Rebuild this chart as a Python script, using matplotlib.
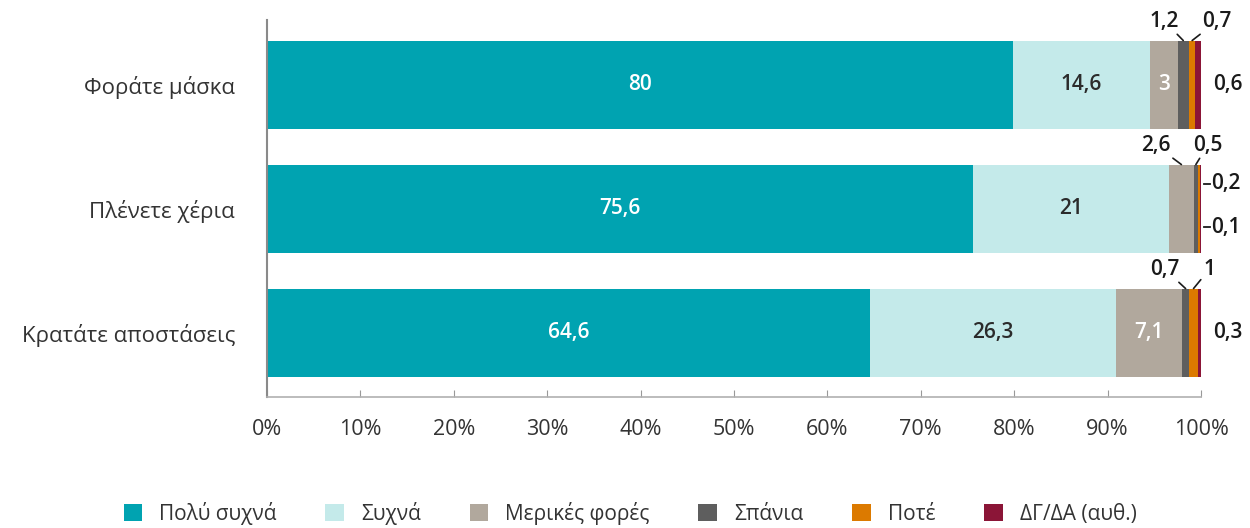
import matplotlib.pyplot as plt
import numpy as np

plt.rcParams['font.family'] = ['Open Sans', 'DejaVu Sans']

categories = ['Φοράτε μάσκα', 'Πλένετε χέρια', 'Κρατάτε αποστάσεις']
series = ['Πολύ συχνά', 'Συχνά', 'Μερικές φορές', 'Σπάνια', 'Ποτέ', 'ΔΓ/ΔΑ (αυθ.)']
values = np.array([
    [80.0, 14.6, 3.0, 1.2, 0.7, 0.6],
    [75.6, 21.0, 2.6, 0.5, 0.2, 0.1],
    [64.6, 26.3, 7.1, 0.7, 1.0, 0.3],
])
colors = ['#00a3b1', '#c4eaea', '#b1a89d', '#5e5e5e', '#dc7a00', '#8b1537']
inner_colors = ['white', '#2b2b2b', 'white']

# outside labels: (row, series index, dx px, dy, kind)
small_labels = [
    (0, 3, -19, 9, 'up'), (0, 4, 25, 9, 'up'), (0, 5, 27, 0, 'side'),
    (1, 2, -26, 9, 'up'), (1, 3, 12, 9, 'up'),
    (1, 4, 0, -0.2, 'dash'), (1, 5, 0, 0.15, 'dash'),
    (2, 3, -21, 9, 'up'), (2, 4, 16, 9, 'up'), (2, 5, 27, 0, 'side'),
]

def fmt(v):
    s = ('%.1f' % v).rstrip('0').rstrip('.')
    return s.replace('.', ',')

pct = values / values.sum(axis=1, keepdims=True) * 100
y = np.arange(len(categories))

fig = plt.figure(figsize=(12.5, 5.28), dpi=100)
ax = fig.add_axes([0.2136, 0.248, 0.7472, 0.714])

left = np.zeros(len(categories))
for j, name in enumerate(series):
    ax.barh(y, pct[:, j], left=left, height=0.71, color=colors[j], label=name, zorder=2)
    if j < 3:
        for i in range(len(categories)):
            if values[i, j] >= 3:
                ax.text(left[i] + pct[i, j] / 2, y[i], fmt(values[i, j]), ha='center', va='center',
                        color=inner_colors[j], fontsize=15, fontweight='semibold')
    left += pct[:, j]

starts = np.cumsum(pct, axis=1) - pct
lab = dict(fontsize=15, fontweight='semibold', color='#1a1a1a')
for (i, j, dx, dy, kind) in small_labels:
    xc = starts[i, j] + pct[i, j] / 2
    if kind == 'up':
        ax.annotate(fmt(values[i, j]), xy=(xc, y[i] - 0.355), xytext=(dx, dy),
                    textcoords='offset pixels', ha='center', va='bottom', annotation_clip=False,
                    arrowprops=dict(arrowstyle='-', color='#1a1a1a', lw=1.2, shrinkA=0, shrinkB=0),
                    **lab)
    elif kind == 'dash':
        yy = y[i] + dy
        ax.plot([100.35, 101.0], [yy, yy], color='#1a1a1a', lw=1.3, clip_on=False)
        ax.text(101.1, yy, fmt(values[i, j]), ha='left', va='center', **lab)
    else:
        ax.text(100 + dx / 9.34, y[i], fmt(values[i, j]), ha='center', va='center', **lab)

ax.set_xlim(0, 100)
ax.set_ylim(2.52, -0.52)
ax.set_yticks(y)
ax.set_yticklabels(categories)
ax.set_xticks(np.arange(0, 101, 10))
ax.set_xticklabels(['%d%%' % v for v in range(0, 101, 10)])
ax.tick_params(axis='y', length=0, pad=23, labelsize=16, labelcolor='#333333')
ax.tick_params(axis='x', direction='in', length=5, color='#999999', pad=16,
               labelsize=15.5, labelcolor='#333333')

for s in ['top', 'right']:
    ax.spines[s].set_visible(False)
ax.spines['left'].set_color('#8a8a8a')
ax.spines['left'].set_linewidth(1.5)
ax.spines['bottom'].set_color('#b0b0b0')
ax.spines['bottom'].set_linewidth(1.2)

fig.legend(loc='center', bbox_to_anchor=(0.504, 0.028), ncol=6, frameon=False,
           fontsize=15, handlelength=0.9, handleheight=0.9, columnspacing=2.35,
           handletextpad=0.8, labelcolor='#333333')

fig.savefig('out.png', dpi=100)
